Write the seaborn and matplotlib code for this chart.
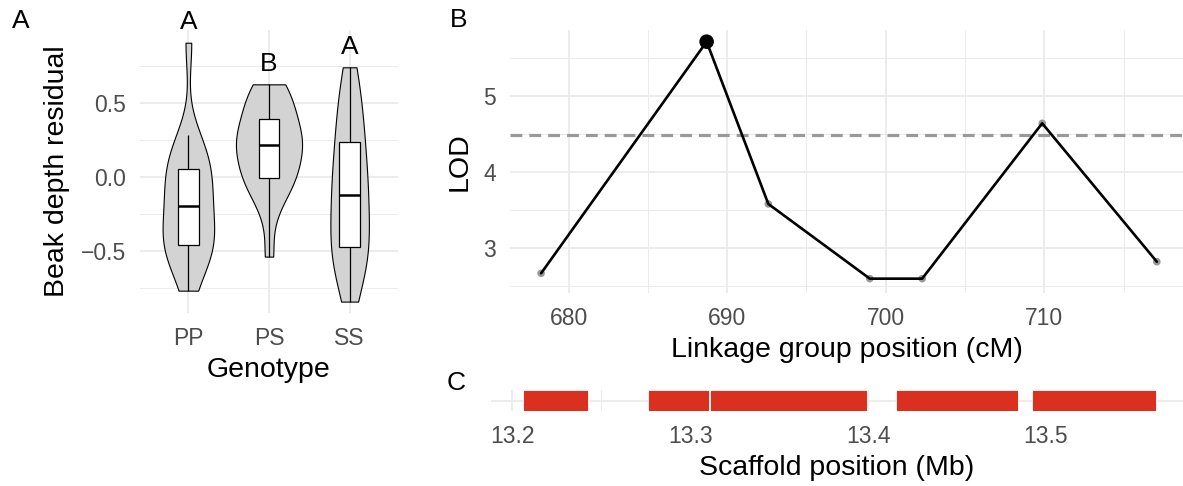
import numpy as np
import pandas as pd
import matplotlib
matplotlib.use('Agg')
import matplotlib.pyplot as plt
from matplotlib.ticker import FixedLocator
import seaborn as sns

# --- Data ---
genotypes = ['PP', 'PS', 'SS']
pp_vals = [-0.768, -0.64, -0.56, -0.52, -0.48, -0.457, -0.41, -0.37, -0.33, -0.27, -0.198,
           -0.15, -0.10, -0.05, 0.00, 0.052, 0.10, 0.15, 0.21, 0.281, 0.907]
ps_vals = [-0.538, -0.25, -0.12, -0.06, -0.03, -0.007, 0.05, 0.10, 0.14, 0.18, 0.216,
           0.24, 0.27, 0.30, 0.35, 0.392, 0.44, 0.50, 0.55, 0.60, 0.626]
ss_vals = [-0.842, -0.72, -0.62, -0.56, -0.51, -0.473, -0.40, -0.33, -0.26, -0.19, -0.124,
           -0.06, 0.00, 0.07, 0.15, 0.239, 0.32, 0.40, 0.50, 0.62, 0.741]
sig_letters = ['A', 'B', 'A']

cm_pos = [678.27, 688.71, 692.6, 699.0, 702.3, 709.87, 717.1]
lod = [2.672, 5.708, 3.581, 2.602, 2.602, 4.638, 2.824]
lod_threshold = 4.48

gene_start = [13.206, 13.2764, 13.3112, 13.4154, 13.4923]
gene_end = [13.2427, 13.3107, 13.3996, 13.4843, 13.5616]

df = pd.DataFrame({
    'genotype': ['PP'] * len(pp_vals) + ['PS'] * len(ps_vals) + ['SS'] * len(ss_vals),
    'residual': pp_vals + ps_vals + ss_vals,
})
qtl = pd.DataFrame({'cM': cm_pos, 'LOD': lod})
genes = pd.DataFrame({'start': gene_start, 'end': gene_end})

# --- Style ---
sns.set_style('white')
plt.rcParams['font.family'] = ['Liberation Sans', 'DejaVu Sans']
plt.rcParams['text.color'] = 'black'
plt.rcParams['axes.labelcolor'] = 'black'
GRID = '#EBEBEB'
TICK = '#4D4D4D'
TITLE_FS = 20.5
TICK_FS = 16.5

W, H = 1183, 486
fig = plt.figure(figsize=(W / 100, H / 100), dpi=100)


def px_axes(x0, y0, x1, y1):
    return fig.add_axes([x0 / W, 1 - y1 / H, (x1 - x0) / W, (y1 - y0) / H])


def minimal(ax, xminor=None, yminor=None):
    for s in ax.spines.values():
        s.set_visible(False)
    ax.set_axisbelow(True)
    ax.grid(which='major', color=GRID, lw=1.3)
    if xminor is not None:
        ax.xaxis.set_minor_locator(FixedLocator(xminor))
    if yminor is not None:
        ax.yaxis.set_minor_locator(FixedLocator(yminor))
    ax.grid(which='minor', color=GRID, lw=0.7)
    ax.tick_params(which='both', length=0, labelsize=TICK_FS, labelcolor=TICK, pad=10)


# --- Panel A: violins ---
axA = px_axes(140, 30, 398, 313)
sns.violinplot(data=df, x='genotype', y='residual', order=genotypes, ax=axA,
               cut=0, inner=None, density_norm='area', width=0.82, bw_adjust=0.85,
               color='#D3D3D3', saturation=1, linecolor='black', linewidth=0.8)
sns.boxplot(data=df, x='genotype', y='residual', order=genotypes, ax=axA,
            width=0.26, showfliers=False, showcaps=False, color='white', saturation=1,
            linecolor='black', linewidth=0.9, medianprops={'linewidth': 1.8})
for i, g in enumerate(genotypes):
    top = df.loc[df.genotype == g, 'residual'].max()
    axA.text(i, top + 0.14, sig_letters[i], ha='center', va='center',
             fontsize=19, clip_on=False)
axA.set_xlim(-0.6, 2.6)
axA.set_ylim(-0.919, 0.993)
axA.set_yticks([-0.5, 0.0, 0.5])
minimal(axA, yminor=[-0.75, -0.25, 0.25, 0.75])
axA.set_xlabel('Genotype', fontsize=TITLE_FS, labelpad=5)
axA.set_ylabel('Beak depth residual', fontsize=TITLE_FS, labelpad=8)

# --- Panel B: LOD profile ---
axB = px_axes(510, 30, 1183, 293)
axB.axhline(lod_threshold, color='#999999', lw=2.3, ls=(0, (3.7, 2.2)))
sns.scatterplot(data=qtl, x='cM', y='LOD', ax=axB, color='#999999', s=30,
                edgecolor='none', zorder=2)
sns.lineplot(data=qtl, x='cM', y='LOD', ax=axB, color='black', lw=1.9, zorder=3)
peak = qtl.loc[[qtl['LOD'].idxmax()]]
sns.scatterplot(data=peak, x='cM', y='LOD', ax=axB, color='black', s=110,
                edgecolor='none', zorder=4)
axB.set_xlim(676.31, 718.75)
axB.set_ylim(2.414, 5.861)
axB.set_xticks([680, 690, 700, 710])
axB.set_yticks([3, 4, 5])
minimal(axB, xminor=[675, 685, 695, 705, 715], yminor=[2.5, 3.5, 4.5, 5.5])
axB.set_xlabel('Linkage group position (cM)', fontsize=TITLE_FS, labelpad=5)
axB.set_ylabel('LOD', fontsize=TITLE_FS, labelpad=8)

# --- Panel C: genes on scaffold ---
axC = px_axes(491, 390, 1183, 411)
axC.barh(y=[0] * len(genes), width=genes['end'] - genes['start'], left=genes['start'],
         height=1, color='#D9301F', edgecolor='white', linewidth=0.6)
axC.set_xlim(13.188, 13.577)
axC.set_ylim(-0.5, 0.5)
axC.set_xticks([13.2, 13.3, 13.4, 13.5])
axC.set_xticklabels(['13.2', '13.3', '13.4', '13.5'])
axC.set_yticks([0])
axC.set_yticklabels([])
minimal(axC, xminor=[13.25, 13.35, 13.45, 13.55])
axC.set_xlabel('Scaffold position (Mb)', fontsize=TITLE_FS, labelpad=5)
axC.set_ylabel('')

# panel tags
fig.text(21 / W, 1 - 21 / H, 'A', fontsize=19, ha='center', va='center')
fig.text(459 / W, 1 - 20 / H, 'B', fontsize=19, ha='center', va='center')
fig.text(456 / W, 1 - 383 / H, 'C', fontsize=19, ha='center', va='center')

fig.savefig('out.png', dpi=100)
